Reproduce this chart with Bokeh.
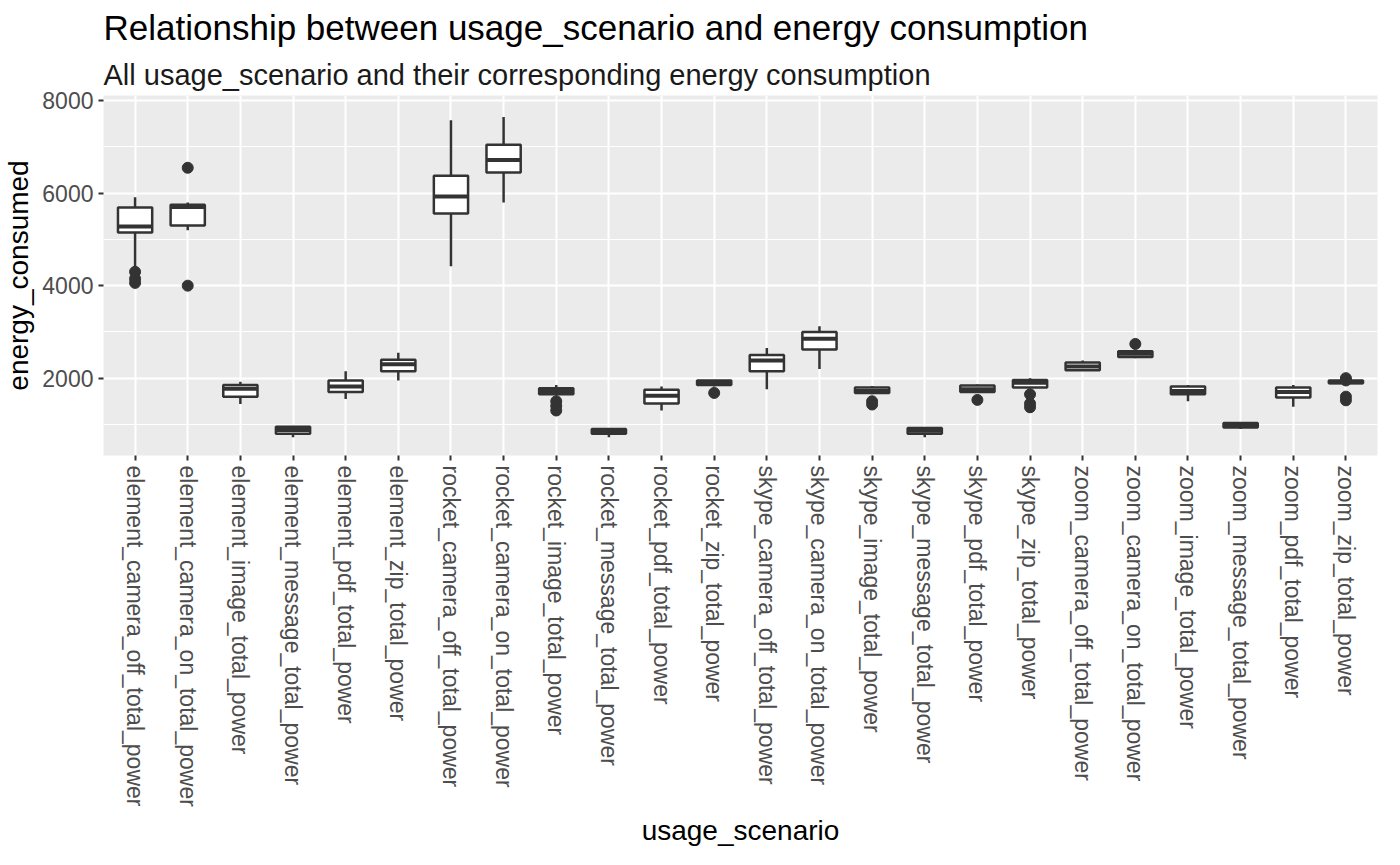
from bokeh.plotting import figure
from bokeh.models import Title, FixedTicker, ColumnDataSource, FactorRange
from bokeh.embed import file_html
from bokeh.resources import INLINE

scenarios = [
    "element_camera_off_total_power", "element_camera_on_total_power", "element_image_total_power",
    "element_message_total_power", "element_pdf_total_power", "element_zip_total_power",
    "rocket_camera_off_total_power", "rocket_camera_on_total_power", "rocket_image_total_power",
    "rocket_message_total_power", "rocket_pdf_total_power", "rocket_zip_total_power",
    "skype_camera_off_total_power", "skype_camera_on_total_power", "skype_image_total_power",
    "skype_message_total_power", "skype_pdf_total_power", "skype_zip_total_power",
    "zoom_camera_off_total_power", "zoom_camera_on_total_power", "zoom_image_total_power",
    "zoom_message_total_power", "zoom_pdf_total_power", "zoom_zip_total_power",
]
lower = [4360, 5200, 1440, 720, 1550, 1950, 4420, 5800, 1620, 720, 1300, 1820,
         1760, 2200, 1650, 720, 1680, 1780, 2170, 2430, 1500, 900, 1380, 1870]
q1 = [5150, 5300, 1600, 800, 1700, 2150, 5560, 6450, 1650, 800, 1450, 1850,
      2150, 2620, 1680, 800, 1700, 1800, 2170, 2460, 1650, 930, 1580, 1890]
median = [5280, 5700, 1770, 880, 1820, 2300, 5930, 6720, 1720, 850, 1620, 1900,
          2380, 2850, 1720, 860, 1760, 1900, 2250, 2530, 1720, 980, 1700, 1910]
q3 = [5690, 5750, 1850, 950, 1950, 2400, 6380, 7050, 1780, 900, 1750, 1950,
      2500, 3000, 1800, 920, 1840, 1960, 2340, 2580, 1820, 1030, 1800, 1950]
upper = [5910, 5800, 1920, 960, 2150, 2550, 7580, 7650, 1850, 910, 1820, 1960,
         2650, 3120, 1830, 930, 1860, 2000, 2380, 2620, 1850, 1040, 1850, 1960]
outlier_scenario = [
    "element_camera_off_total_power", "element_camera_off_total_power", "element_camera_off_total_power",
    "element_camera_on_total_power", "element_camera_on_total_power",
    "rocket_image_total_power", "rocket_image_total_power", "rocket_image_total_power",
    "rocket_zip_total_power",
    "skype_image_total_power", "skype_image_total_power",
    "skype_pdf_total_power",
    "skype_zip_total_power", "skype_zip_total_power", "skype_zip_total_power",
    "zoom_camera_on_total_power",
    "zoom_zip_total_power", "zoom_zip_total_power", "zoom_zip_total_power", "zoom_zip_total_power",
]
outlier_value = [4300, 4150, 4060, 6550, 4000, 1500, 1400, 1300, 1680, 1500, 1430, 1530,
                 1650, 1450, 1370, 2740, 2000, 1950, 1600, 1520]

src = ColumnDataSource(dict(x=scenarios, lower=lower, q1=q1, median=median, q3=q3, upper=upper))

p = figure(width=1384, height=848, x_range=FactorRange(*scenarios, range_padding=0.1,
                                                        range_padding_units="absolute"),
           y_range=(327, 8113), output_backend="svg", toolbar_location=None,
           min_border_left=10, min_border_right=7, min_border_top=6, min_border_bottom=10)

p.add_layout(Title(text="All usage_scenario and their corresponding energy consumption",
                   text_font="Liberation Sans", text_font_size="29px",
                   text_font_style="normal", text_color="#1a1a1a"), "above")
p.add_layout(Title(text="Relationship between usage_scenario and energy consumption",
                   text_font="Liberation Sans", text_font_size="35px",
                   text_font_style="normal", text_color="#000000"), "above")

p.background_fill_color = "#EBEBEB"
p.outline_line_color = None
p.xgrid.grid_line_color = "white"
p.xgrid.grid_line_width = 2
p.ygrid.grid_line_color = "white"
p.ygrid.grid_line_width = 2
p.ygrid.minor_grid_line_color = "white"
p.ygrid.minor_grid_line_width = 1
p.yaxis.ticker = FixedTicker(ticks=[2000, 4000, 6000, 8000], minor_ticks=[1000, 3000, 5000, 7000])

for ax in (p.xaxis, p.yaxis):
    ax.axis_line_color = None
    ax.major_tick_line_color = "#333333"
    ax.major_tick_line_width = 2
    ax.major_tick_out = 5
    ax.major_tick_in = 0
    ax.minor_tick_line_color = None
    ax.major_label_text_font = "Liberation Sans"
    ax.major_label_text_font_size = "23px"
    ax.major_label_text_color = "#4D4D4D"
    ax.axis_label_text_font = "Liberation Sans"
    ax.axis_label_text_font_size = "28px"
    ax.axis_label_text_font_style = "normal"
    ax.axis_label_text_color = "#000000"

p.xaxis.axis_label = "usage_scenario"
p.yaxis.axis_label = "energy_consumed"
p.xaxis.major_label_orientation = "vertical"

box_color = "#333333"
p.segment(x0="x", y0="lower", x1="x", y1="q1", source=src, line_color=box_color, line_width=2.5)
p.segment(x0="x", y0="q3", x1="x", y1="upper", source=src, line_color=box_color, line_width=2.5)
p.vbar(x="x", bottom="q1", top="q3", width=0.65, source=src, fill_color="white",
       line_color=box_color, line_width=2.5)
p.rect(x="x", y="median", width=0.65, height=4, height_units="screen", source=src,
       fill_color=box_color, line_color=None)
p.scatter(x=outlier_scenario, y=outlier_value, size=11, color=box_color)

open("out.html", "w").write(file_html(p, INLINE))
